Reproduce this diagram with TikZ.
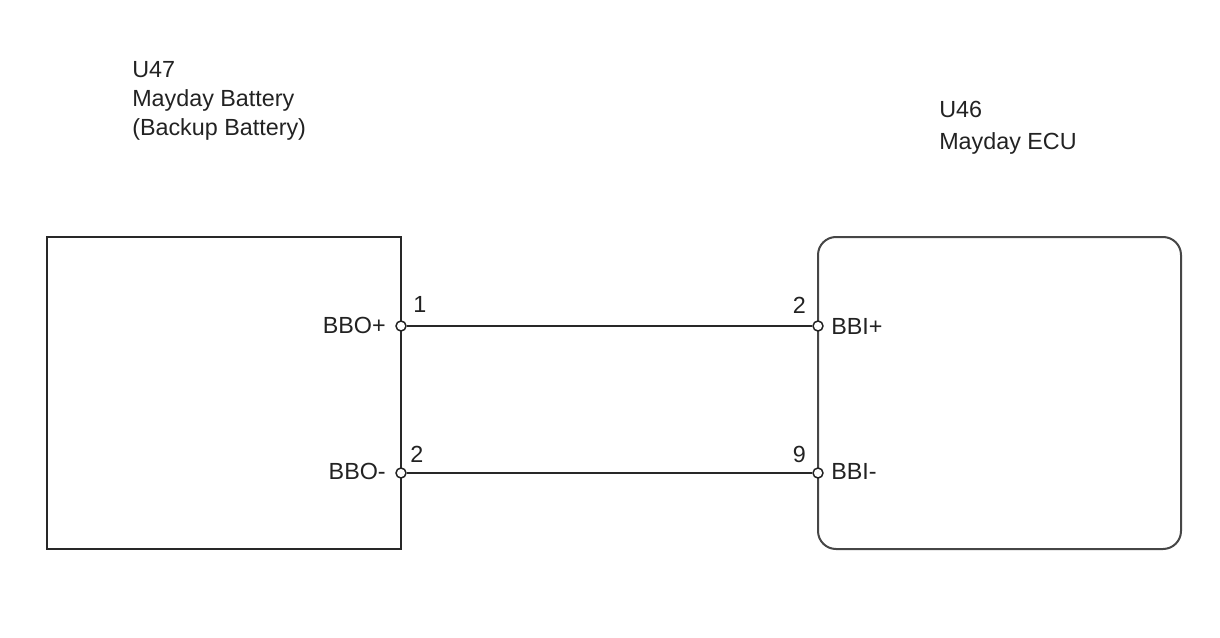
\documentclass[tikz,border=0pt]{standalone}
\usepackage{fontspec}
\setmainfont{Liberation Sans}
\usepackage{tikz}

\begin{document}
\begin{tikzpicture}[x=0.75pt,y=0.75pt,yscale=-1,xscale=1,
  txt/.style={inner sep=0pt,font=\fontsize{17.5}{21}\selectfont,text={rgb,255:red,34;green,34;blue,34}},
  pinc/.style={circle,draw={rgb,255:red,34;green,34;blue,34},fill=white,line width=1.1pt,inner sep=0pt,minimum size=7.5pt}]
\useasboundingbox (0,0) rectangle (1220,638);

%Shape: Rectangle
\draw [color={rgb, 255:red, 40; green, 40; blue, 40 }, line width=1.5]  (47,237) rectangle (401,549) ;
%Shape: Rounded Rect
\draw [color={rgb, 255:red, 70; green, 70; blue, 70 }, line width=1.5, rounded corners=13.5pt]  (818,237) rectangle (1181,549) ;

%Pins
\node [pinc] (bbop) at (401,326) {};
\node [pinc] (bbom) at (401,473) {};
\node [pinc] (bbip) at (818,326) {};
\node [pinc] (bbim) at (818,473) {};

%Straight Lines
\draw [color={rgb, 255:red, 40; green, 40; blue, 40 }, line width=1.5]  (bbop) -- (bbip) ;
%Straight Lines
\draw [color={rgb, 255:red, 40; green, 40; blue, 40 }, line width=1.5]  (bbom) -- (bbim) ;

% Text Nodes
\node [txt, anchor=base west] (u47) at (132,78) {U47};
\node [txt, anchor=base west] (u47n) at (132,107) {Mayday Battery};
\node [txt, anchor=base west] (u47b) at (132,136) {(Backup Battery)};
\node [txt, anchor=base west] (u46) at (939,118) {U46};
\node [txt, anchor=base west] (u46n) at (939,150) {Mayday ECU};

\node [txt, anchor=base east] (lbbop) at (386,333) {BBO+};
\node [txt, anchor=base east] (lbbom) at (386,479) {BBO-};
\node [txt, anchor=base west] (lbbip) at (831,334) {BBI+};
\node [txt, anchor=base west] (lbbim) at (831,479) {BBI-};

\node [txt, anchor=base west] (n1) at (413,312) {1};
\node [txt, anchor=base west] (n2) at (410,462) {2};
\node [txt, anchor=base east] (n3) at (806,313) {2};
\node [txt, anchor=base east] (n9) at (806,462) {9};

\end{tikzpicture}
\end{document}
